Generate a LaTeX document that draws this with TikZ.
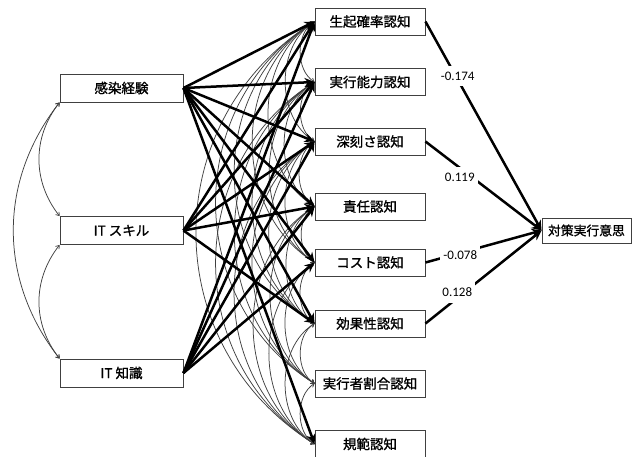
\documentclass[tikz,border=0pt]{standalone}
\usepackage{fontspec}
\newfontfamily\jpfont[FakeBold=1.2]{Noto Sans CJK JP}
\newfontfamily\numfont{Carlito}
\usetikzlibrary{arrows.meta}
\begin{document}
\begin{tikzpicture}[x=1pt,y=-1pt,
  vbox/.style={draw=black!75, line width=0.9pt, fill=white, inner sep=0pt, font=\jpfont\fontsize{13.5}{16}\selectfont},
  lbox/.style={vbox, minimum width=123pt, minimum height=28pt},
  mbox/.style={vbox, minimum width=110pt, minimum height=27pt},
  rbox/.style={vbox, minimum width=89pt, minimum height=25pt, font=\jpfont\fontsize{12.8}{15}\selectfont},
  eff/.style={line width=2.5pt, -{Stealth[length=10pt,width=9pt]}},
  cov/.style={draw=black!75, line width=0.75pt, {Straight Barb[length=3pt,width=4.5pt]}-{Straight Barb[length=3pt,width=4.5pt]}},
  coef/.style={fill=white, font=\numfont\fontsize{13}{15}\selectfont, inner xsep=3pt, inner ysep=6pt}
]
\useasboundingbox (0,0) rectangle (644,456);

% left (exogenous) nodes
\node[lbox] (a) at (121.5,88) {感染経験};
\node[lbox] (b) at (121.5,230.5) {IT スキル};
\node[lbox] (c) at (121.5,373) {IT 知識};

% covariances among exogenous
\draw[cov] (a.south west) to[bend right=38] (b.north west);
\draw[cov] (b.south west) to[bend right=38] (c.north west);
\draw[cov] (a.south west) to[bend right=38] (c.north west);

% middle nodes
\node[mbox] (m1) at (370,21.5) {生起確率認知};
\node[mbox] (m2) at (370,82) {実行能力認知};
\node[mbox] (m3) at (370,141.5) {深刻さ認知};
\node[mbox] (m4) at (370,206.5) {責任認知};
\node[mbox] (m5) at (370,262.5) {コスト認知};
\node[mbox] (m6) at (370,323.5) {効果性認知};
\node[mbox] (m7) at (370,383.5) {実行者割合認知};
\node[mbox] (m8) at (370,444) {規範認知};

% residual covariances among middle nodes
\foreach \i in {1,...,7}{
  \pgfmathtruncatemacro\nxt{\i+1}
  \foreach \j in {\nxt,...,8}{
    \pgfmathsetmacro\loose{0.92+0.03*(\j-\i)}
    \draw[cov] (m\i.west) to[bend right=58, looseness=\loose] (m\j.west);
  }
}

% structural paths
\foreach \t in {1,2,3,4,5,6,8}{ \draw[eff] (a.east) -- (m\t.west); }
\foreach \t in {1,2,3,4,6}{ \draw[eff] (b.east) -- (m\t.west); }
\foreach \t in {1,2,3,4,5}{ \draw[eff] (c.east) -- (m\t.west); }

% redraw middle nodes on top of the paths
\foreach \y/\txt in {21.5/生起確率認知,82/実行能力認知,141.5/深刻さ認知,206.5/責任認知,262.5/コスト認知,323.5/効果性認知,383.5/実行者割合認知,444/規範認知}{
  \node[mbox] at (370,\y) {\txt};
}

% outcome
\node[rbox] (r) at (586.5,230.5) {対策実行意思};

\draw[eff] (m1.east) -- node[coef, pos=0.26, xshift=2pt] {-0.174} (r.west);
\draw[eff] (m3.east) -- node[coef, pos=0.33, xshift=-4pt, yshift=-6pt] {0.119} (r.west);
\draw[eff] (m5.east) -- node[coef, pos=0.30, yshift=-2pt] {-0.078} (r.west);
\draw[eff] (m6.east) -- node[coef, pos=0.30, xshift=-3pt, yshift=3pt] {0.128} (r.west);
\end{tikzpicture}
\end{document}
